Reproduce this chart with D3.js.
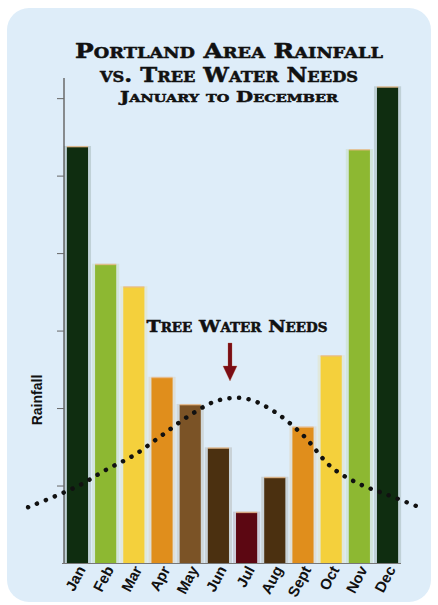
<!DOCTYPE html>
<html>
<head>
<meta charset="utf-8">
<script src="https://cdn.jsdelivr.net/npm/d3@7"></script>
<style>
  body { margin: 0; background: #fff; }
  svg { display: block; }
  .title { font-family: "DejaVu Serif", serif; font-weight: bold; font-variant: small-caps; fill: #111; }
  .xlab { font-family: "Liberation Sans", Arial, sans-serif; font-weight: bold; font-size: 15px; fill: #111; }
</style>
</head>
<body>
<svg id="chart"></svg>
<script>
// rainfall in inches, Jan..Dec
const months = ['Jan', 'Feb', 'Mar', 'Apr', 'May', 'Jun', 'Jul', 'Aug', 'Sept', 'Oct', 'Nov', 'Dec'];
const rainfall = [5.37, 3.85, 3.56, 2.39, 2.04, 1.48, 0.65, 1.10, 1.75, 2.67, 5.33, 6.14];
const barColors = ['#0f2d10', '#8db832', '#f4d03c', '#e08e1c', '#7b5326', '#4b3010', '#5c0712', '#4b3010', '#e08e1c', '#f4d03c', '#8db832', '#0f2d10'];
const yTicks = [1, 2, 3, 4, 5, 6];

// tree water needs curve: month index (0 = Jan) and value on the same scale
const needsIndex = [-1.75, 0, 1, 2, 3, 4, 5, 6, 7, 8, 9, 10, 11, 12.2];
const needsValues = [0.72, 0.99, 1.20, 1.39, 1.65, 1.91, 2.10, 2.12, 1.95, 1.65, 1.24, 1.02, 0.88, 0.71];

const W = 438, H = 605;
const svg = d3.select('#chart').attr('width', W).attr('height', H);

// panel
svg.append('rect')
  .attr('x', 7).attr('y', 8)
  .attr('width', 424).attr('height', 594)
  .attr('rx', 22)
  .attr('fill', '#deedf9');

const x = d3.scaleBand()
  .domain(months)
  .range([63.5, 401.5])
  .paddingInner(0.25)
  .paddingOuter(0.12);

const y = d3.scaleLinear()
  .domain([0, 6.26])
  .range([563, 78]);

// month index -> band centre
const xi = d3.scaleLinear()
  .domain([0, 11])
  .range([x('Jan') + x.bandwidth() / 2, x('Dec') + x.bandwidth() / 2]);

// title
const title = [
  {t: 'Portland Area Rainfall', y: 58, size: 21, len: 308},
  {t: 'vs. Tree Water Needs', y: 82, size: 21, len: 258},
  {t: 'January to December', y: 102, size: 15, len: 218}
];
svg.selectAll('.title')
  .data(title)
  .join('text')
  .attr('class', 'title')
  .attr('x', 229)
  .attr('y', d => d.y)
  .attr('text-anchor', 'middle')
  .attr('font-size', d => d.size)
  .attr('textLength', d => d.len)
  .attr('lengthAdjust', 'spacingAndGlyphs')
  .attr('stroke', '#111')
  .attr('stroke-width', 0.5)
  .text(d => d.t);

// y axis (ticks only, no labels)
const yAxisG = svg.append('g')
  .attr('transform', 'translate(64,0)')
  .call(d3.axisLeft(y).tickValues(yTicks).tickSize(7).tickFormat(''))
  .call(g => g.select('.domain').remove());
yAxisG.selectAll('line').attr('stroke', '#666');
svg.append('line')
  .attr('x1', 64).attr('x2', 64)
  .attr('y1', y(6.26)).attr('y2', y(0))
  .attr('stroke', '#6a6a6a').attr('stroke-width', 1.5);

// bars: faint halo then solid bar
svg.selectAll('.halo')
  .data(rainfall)
  .join('rect')
  .attr('class', 'halo')
  .attr('x', (d, i) => x(months[i]) - 3)
  .attr('width', x.bandwidth() + 6)
  .attr('y', d => y(d) - 1)
  .attr('height', d => y(0) - y(d) + 1)
  .attr('fill', (d, i) => barColors[i])
  .attr('opacity', 0.14);

svg.selectAll('.bar')
  .data(rainfall)
  .join('rect')
  .attr('class', 'bar')
  .attr('x', (d, i) => x(months[i]))
  .attr('width', x.bandwidth())
  .attr('y', d => y(d))
  .attr('height', d => y(0) - y(d))
  .attr('fill', (d, i) => barColors[i]);

// thin warm highlight along bar tops
svg.selectAll('.cap')
  .data(rainfall)
  .join('rect')
  .attr('class', 'cap')
  .attr('x', (d, i) => x(months[i]))
  .attr('width', x.bandwidth())
  .attr('y', d => y(d) - 1)
  .attr('height', 1.5)
  .attr('fill', '#eab47a')
  .attr('opacity', 0.7);

// x axis line
svg.append('line')
  .attr('x1', 62).attr('x2', 401)
  .attr('y1', y(0) + 0.5).attr('y2', y(0) + 0.5)
  .attr('stroke', '#777').attr('stroke-width', 1.2);

// month labels
svg.selectAll('.xlab')
  .data(months)
  .join('text')
  .attr('class', 'xlab')
  .attr('text-anchor', 'end')
  .attr('transform', d => `translate(${x(d) + x.bandwidth() / 2 + 4},${y(0) + 4}) rotate(-62)`)
  .attr('dy', '0.35em')
  .text(d => d);

// y label
svg.append('text')
  .attr('transform', 'translate(42,400) rotate(-90)')
  .attr('text-anchor', 'middle')
  .attr('font-family', '"Liberation Sans", Arial, sans-serif')
  .attr('font-weight', 'bold')
  .attr('font-size', 14)
  .attr('fill', '#111')
  .text('Rainfall');

// tree water needs dotted curve
const needsLine = d3.line()
  .x((d, i) => xi(needsIndex[i]))
  .y(d => y(d))
  .curve(d3.curveCatmullRom);
svg.append('path')
  .datum(needsValues)
  .attr('d', needsLine)
  .attr('fill', 'none')
  .attr('stroke', '#111')
  .attr('stroke-width', 4.5)
  .attr('stroke-linecap', 'round')
  .attr('stroke-dasharray', '0.1 9.5');

// label + arrow
svg.append('text')
  .attr('class', 'title')
  .attr('x', 237)
  .attr('y', 332)
  .attr('text-anchor', 'middle')
  .attr('font-size', 17)
  .attr('textLength', 181)
  .attr('lengthAdjust', 'spacingAndGlyphs')
  .attr('stroke', '#111')
  .attr('stroke-width', 0.5)
  .text('Tree Water Needs');

const ax = 230;
svg.append('path')
  .attr('d', `M${ax - 2},343 L${ax + 2},343 L${ax + 2},366 L${ax + 7},366 L${ax},381 L${ax - 7},366 L${ax - 2},366 Z`)
  .attr('fill', '#7a0d16')
  .attr('stroke', '#c0603a')
  .attr('stroke-width', 0.6)
  .attr('stroke-opacity', 0.5);
</script>
</body>
</html>
